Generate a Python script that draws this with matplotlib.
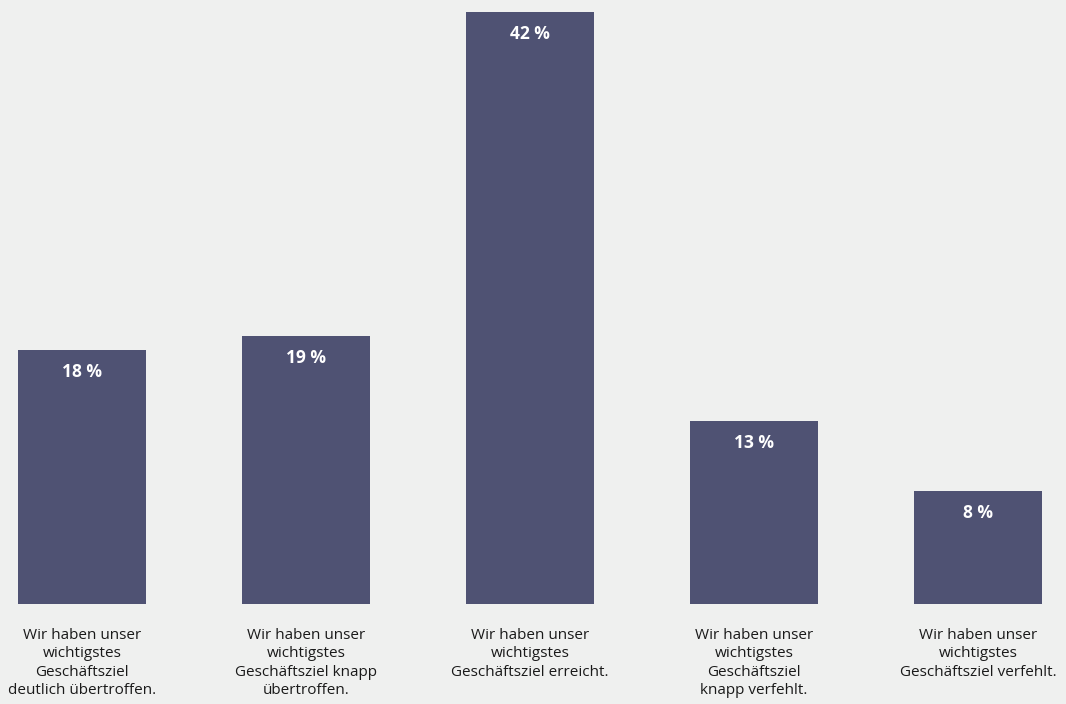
import matplotlib.pyplot as plt

categories = [
    "Wir haben unser\nwichtigstes\nGeschäftsziel\ndeutlich übertroffen.",
    "Wir haben unser\nwichtigstes\nGeschäftsziel knapp\nübertroffen.",
    "Wir haben unser\nwichtigstes\nGeschäftsziel erreicht.",
    "Wir haben unser\nwichtigstes\nGeschäftsziel\nknapp verfehlt.",
    "Wir haben unser\nwichtigstes\nGeschäftsziel verfehlt.",
]
values = [18, 19, 42, 13, 8]

bg = "#eff0ef"
bar_color = "#4f5273"

plt.rcParams["font.family"] = ["Open Sans", "DejaVu Sans"]

fig = plt.figure(figsize=(10.66, 7.04), dpi=100, facecolor=bg)
ax = fig.add_axes([0, 100 / 704, 1, 604 / 704])
ax.set_facecolor(bg)

x = list(range(len(values)))
ax.bar(x, values, width=128 / 224, color=bar_color, zorder=2)

ax.set_xlim(-82 / 224, (1066 - 82) / 224)
ax.set_ylim(0, 604 / (592 / 42))

for xi, v in zip(x, values):
    ax.annotate(f"{v} %", xy=(xi, v), xytext=(0, -22), textcoords="offset pixels",
                ha="center", va="center", color="white", fontsize=12.5, fontweight="bold")

ax.set_xticks(x)
ax.set_xticklabels(categories, fontsize=11, color="#1a1a1a", linespacing=1.32, va="top")
ax.tick_params(axis="x", length=0, pad=17)
ax.set_yticks([])
for s in ax.spines.values():
    s.set_visible(False)

fig.savefig("out.png", dpi=100, facecolor=bg)
